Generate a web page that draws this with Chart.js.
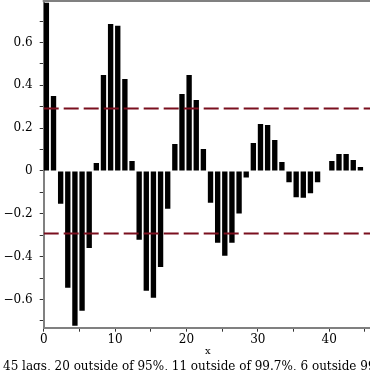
<!DOCTYPE html>
<html>
<head>
<meta charset="utf-8">
<script src="https://cdn.jsdelivr.net/npm/chart.js@4.4.0/dist/chart.umd.min.js"></script>
<style>
  html, body { margin: 0; padding: 0; width: 370px; height: 370px; overflow: hidden; background: #fff; }
  canvas { display: block; }
</style>
</head>
<body>
<canvas id="acf-chart" width="440" height="378"></canvas>
<script>
// autocorrelation data
let lags = [0, 1, 2, 3, 4, 5, 6, 7, 8, 9, 10, 11, 12, 13, 14, 15, 16, 17, 18, 19, 20, 21,
  22, 23, 24, 25, 26, 27, 28, 29, 30, 31, 32, 33, 34, 35, 36, 37, 38, 39, 40, 41, 42, 43, 44];
let acfValues = [0.786, 0.350, -0.153, -0.545, -0.723, -0.653, -0.360, 0.037, 0.448, 0.687,
  0.678, 0.430, 0.047, -0.321, -0.559, -0.592, -0.449, -0.176, 0.126, 0.360, 0.448, 0.332,
  0.103, -0.148, -0.335, -0.396, -0.335, -0.199, -0.031, 0.131, 0.220, 0.215, 0.145, 0.042,
  -0.053, -0.123, -0.125, -0.104, -0.053, 0.002, 0.047, 0.079, 0.079, 0.051, 0.019];

// 95% band (1.96 / sqrt(45))
let bandLevels = [0.292, -0.292];
let bandRange = [0, 46];

let xTicks = [0, 5, 10, 15, 20, 25, 30, 35, 40, 45];
let xTickLabels = ['0', '', '10', '', '20', '', '30', '', '40', ''];
let yTicks = [-0.7, -0.6, -0.5, -0.4, -0.3, -0.2, -0.1, 0, 0.1, 0.2, 0.3, 0.4, 0.5, 0.6, 0.7];
let yTickLabels = ['', '\u22120.6', '', '\u22120.4', '', '\u22120.2', '', '0', '', '0.2', '', '0.4', '', '0.6', ''];

let caption = '45 lags, 20 outside of 95%, 11 outside of 99.7%, 6 outside 99.99%';

const serif = 'DejaVu Serif';

// bars sit on [lag, lag + 0.75]
let barData = lags.map((lag, i) => ({x: lag + 0.375, y: acfValues[i]}));

let datasets = bandLevels.map(level => ({
  type: 'line',
  data: bandRange.map(x => ({x: x, y: level})),
  borderColor: '#7a0f1e',
  borderWidth: 2,
  borderDash: [15, 5],
  pointRadius: 0,
  fill: false,
  order: 1
}));
datasets.push({
  type: 'bar',
  data: barData,
  backgroundColor: '#000',
  borderWidth: 0,
  barPercentage: 0.75,
  categoryPercentage: 1,
  order: 2
});

// gray frame line on top of the plot
const topBorder = {
  id: 'topBorder',
  afterDraw(chart) {
    const {ctx, chartArea} = chart;
    ctx.save();
    ctx.strokeStyle = '#808080';
    ctx.lineWidth = 2;
    ctx.beginPath();
    ctx.moveTo(chartArea.left - 1, chartArea.top);
    ctx.lineTo(chartArea.right, chartArea.top);
    ctx.stroke();
    ctx.restore();
  }
};

new Chart(document.getElementById('acf-chart'), {
  type: 'bar',
  data: {datasets: datasets},
  options: {
    responsive: false,
    animation: false,
    layout: {padding: {left: 3, right: 0, top: 1, bottom: 3.9}},
    scales: {
      x: {
        type: 'linear',
        min: 0,
        max: 46,
        offset: false,
        afterBuildTicks: scale => { scale.ticks = xTicks.map(v => ({value: v})); },
        afterFit: scale => {
          scale.height = 32;
          scale.paddingLeft = 0;
          scale.paddingRight = 0;
        },
        border: {color: '#808080', width: 2},
        grid: {drawOnChartArea: false, tickLength: 4, tickColor: '#333', offset: false},
        ticks: {
          autoSkip: false,
          maxRotation: 0,
          padding: 1,
          color: '#000',
          font: {family: serif, size: 12},
          callback: (v, i) => xTickLabels[i]
        },
        title: {
          display: true,
          text: 'x',
          color: '#000',
          font: {family: serif, size: 10},
          padding: {top: 0, bottom: 2}
        }
      },
      y: {
        min: -0.732,
        max: 0.794,
        afterBuildTicks: scale => { scale.ticks = yTicks.map(v => ({value: v})); },
        afterFit: scale => {
          scale.width = 40.7;
          scale.paddingTop = 0;
          scale.paddingBottom = 0;
        },
        border: {color: '#808080', width: 2},
        grid: {drawOnChartArea: false, tickLength: 4, tickColor: '#333'},
        ticks: {
          autoSkip: false,
          padding: 7,
          color: '#000',
          font: {family: serif, size: 12},
          callback: (v, i) => yTickLabels[i]
        }
      },
      // empty right-hand space past the visible window
      yRight: {
        position: 'right',
        min: 0,
        max: 1,
        ticks: {display: false},
        grid: {display: false, drawTicks: false},
        border: {display: false},
        afterFit: scale => {
          scale.width = 68;
          scale.paddingTop = 0;
          scale.paddingBottom = 0;
        }
      }
    },
    plugins: {
      legend: {display: false},
      tooltip: {enabled: false},
      title: {
        display: true,
        position: 'bottom',
        align: 'start',
        text: caption,
        color: '#000',
        font: {family: serif, size: 12, weight: 'normal', lineHeight: 1.2},
        padding: 0
      }
    }
  },
  plugins: [topBorder]
});
</script>
</body>
</html>
